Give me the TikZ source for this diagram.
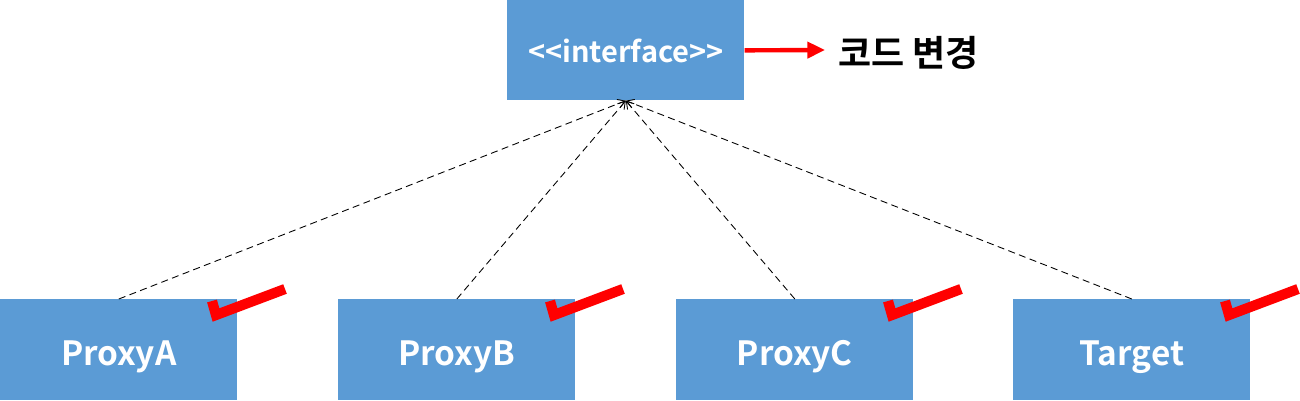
\documentclass[tikz,border=0pt]{standalone}
\usepackage{fontspec}
\setmainfont{Noto Sans CJK KR}
\newfontfamily\krbold{Noto Sans CJK KR Bold}
\usetikzlibrary{arrows.meta}
\definecolor{boxblue}{HTML}{5B9BD5}
\tikzset{
  cls/.style={draw=none, fill=boxblue, text=white, font=\krbold\fontsize{19}{21}\selectfont, minimum width=4.74cm, minimum height=2.02cm, inner sep=0pt, anchor=north west, text height=0.66cm, text depth=0.05cm},
  realize/.style={line width=0.5pt, dash pattern=on 4pt off 2.5pt, -{Straight Barb[length=4pt,width=5pt]}},
  tick/.style={red, line width=5.8pt, line join=miter},
}
\begin{document}
\begin{tikzpicture}[x=0.02cm,y=-0.02cm]
\useasboundingbox (0,0) rectangle (1300,400);
\node[cls, minimum height=2.0cm, font=\krbold\fontsize{16.5}{18}\selectfont, text height=0.55cm, text depth=0.05cm] (iface) at (507,0) {<<interface>>};
\node[cls] (pa) at (0,299) {ProxyA};
\node[cls] (pb) at (338,299) {ProxyB};
\node[cls] (pc) at (676,299) {ProxyC};
\node[cls] (tg) at (1013,299) {Target};
\node[anchor=west, inner sep=0pt, font=\krbold\fontsize{20.5}{22}\selectfont] (chg) at (838,53) {코드 변경};
\coordinate (tip) at (825,50);
\draw[red, line width=2.5pt, -{Triangle[length=10pt,width=9pt]}] (iface.east) -- (tip);
\foreach \n in {pa,pb,pc,tg}{
  \draw[realize] (\n.north) -- (iface.south);
}
\foreach \e in {237,575,913,1250}{
  \draw[tick] (\e-25,301) -- (\e-21,315) -- (\e+48,289);
}
\end{tikzpicture}
\end{document}
